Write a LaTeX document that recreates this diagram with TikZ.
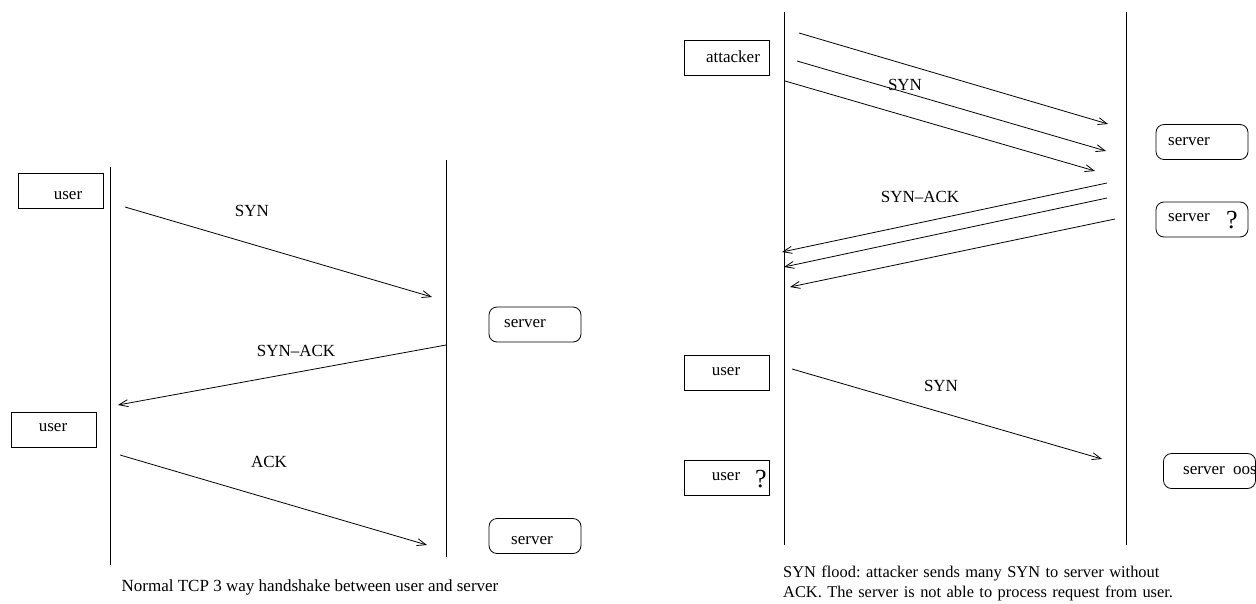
\documentclass[tikz,border=0pt]{standalone}
\usepackage{fontspec}
\setmainfont{Liberation Serif}
\usetikzlibrary{arrows.meta}
\begin{document}
\frenchspacing
\begin{tikzpicture}[x=1pt,y=-1pt,
  line/.style={line width=0.8pt,black},
  msg/.style={line width=0.8pt,-{Straight Barb[length=9pt,width=7pt,line width=0.8pt]}},
  sqbox/.style={draw,line width=0.8pt,rectangle,minimum width=85pt,minimum height=35pt,inner sep=0pt},
  rbox/.style={draw,line width=0.8pt,rectangle,rounded corners=8pt,minimum width=92pt,minimum height=35pt,inner sep=0pt},
  txt/.style={font=\fontsize{17}{20}\selectfont,inner sep=0pt},
  qm/.style={font=\fontsize{26}{28}\selectfont,inner sep=0pt}]
\useasboundingbox (0,0) rectangle (1256,603);
\clip (0,0) rectangle (1256,603);
% ---------------- left diagram ----------------
\coordinate (L1t) at (110,167); \coordinate (L1b) at (110,565);
\coordinate (L2t) at (446,160); \coordinate (L2b) at (446,557);
\draw[line] (L1t) -- (L1b);
\draw[line] (L2t) -- (L2b);
\node[sqbox] (u1) at (60.5,191) {};
\node[txt] (u1t) at (68,196) {user};
\node[rbox] (s1) at (535,324.5) {};
\node[txt] (s1t) at (525,324) {server};
\node[sqbox] (u2) at (53.5,429.5) {};
\node[txt] (u2t) at (53,428) {user};
\node[rbox] (s2) at (535,536) {};
\node[txt] (s2t) at (532,541) {server};
\coordinate (a1s) at (125,207); \coordinate (a1e) at (432,297);
\coordinate (a2s) at (446,345); \coordinate (a2e) at (118,405);
\coordinate (a3s) at (120,455); \coordinate (a3e) at (427,545);
\draw[msg] (a1s) -- (a1e);
\draw[msg] (a2s) -- (a2e);
\draw[msg] (a3s) -- (a3e);
\node[txt] (l1) at (252,211) {SYN};
\node[txt] (l2) at (296,351) {SYN{\textendash}ACK};
\node[txt] (l3) at (269,462) {ACK};
\node[txt] (c1) at (310,587) {Normal TCP 3 way handshake between user and server};
% ---------------- right diagram ----------------
\coordinate (R1t) at (784,12); \coordinate (R1b) at (784,545);
\coordinate (R2t) at (1126,12); \coordinate (R2b) at (1126,545);
\draw[line] (R1t) -- (R1b);
\draw[line] (R2t) -- (R2b);
\node[sqbox] (att) at (726.5,58) {};
\node[txt] (attt) at (733,57) {attacker};
\node[rbox] (s3) at (1202,142) {};
\node[txt] (s3t) at (1189,142) {server};
\node[rbox] (s4) at (1202,219.5) {};
\node[txt] (s4t) at (1189,218) {server};
\node[qm] (s4q) at (1232,220) {?};
\node[sqbox] (u3) at (726.5,373) {};
\node[txt] (u3t) at (726,372) {user};
\node[sqbox] (u4) at (726.5,478) {};
\node[txt] (u4t) at (726,477) {user};
\node[qm] (u4q) at (761,479) {?};
\node[rbox] (s5) at (1209.5,471) {};
\node[txt, anchor=west] (s5t) at (1183,471) {server\ \ oos};
\coordinate (b1s) at (799,33);  \coordinate (b1e) at (1108,124);
\coordinate (b2s) at (797,61);  \coordinate (b2e) at (1106,151);
\coordinate (b3s) at (785,81);  \coordinate (b3e) at (1095,171);
\coordinate (c1s) at (1107,183); \coordinate (c1e) at (782,252);
\coordinate (c2s) at (1107,198); \coordinate (c2e) at (784,267);
\coordinate (c3s) at (1115,219); \coordinate (c3e) at (790,287);
\coordinate (d1s) at (792,369); \coordinate (d1e) at (1102,459);
\draw[msg] (b1s) -- (b1e);
\draw[msg] (b2s) -- (b2e);
\draw[msg] (b3s) -- (b3e);
\draw[msg] (c1s) -- (c1e);
\draw[msg] (c2s) -- (c2e);
\draw[msg] (c3s) -- (c3e);
\draw[msg] (d1s) -- (d1e);
\node[txt] (m1) at (905,85) {SYN};
\node[txt] (m2) at (920,197) {SYN{\textendash}ACK};
\node[txt] (m3) at (941,386) {SYN};
\node[font=\fontsize{16.4}{20}\selectfont, inner sep=0pt, anchor=north west, align=left, text width=440pt] (c2) at (783,566)
  {SYN flood: attacker sends many SYN to server without\\ACK. The server is not able to process request from user.};
\end{tikzpicture}
\end{document}
